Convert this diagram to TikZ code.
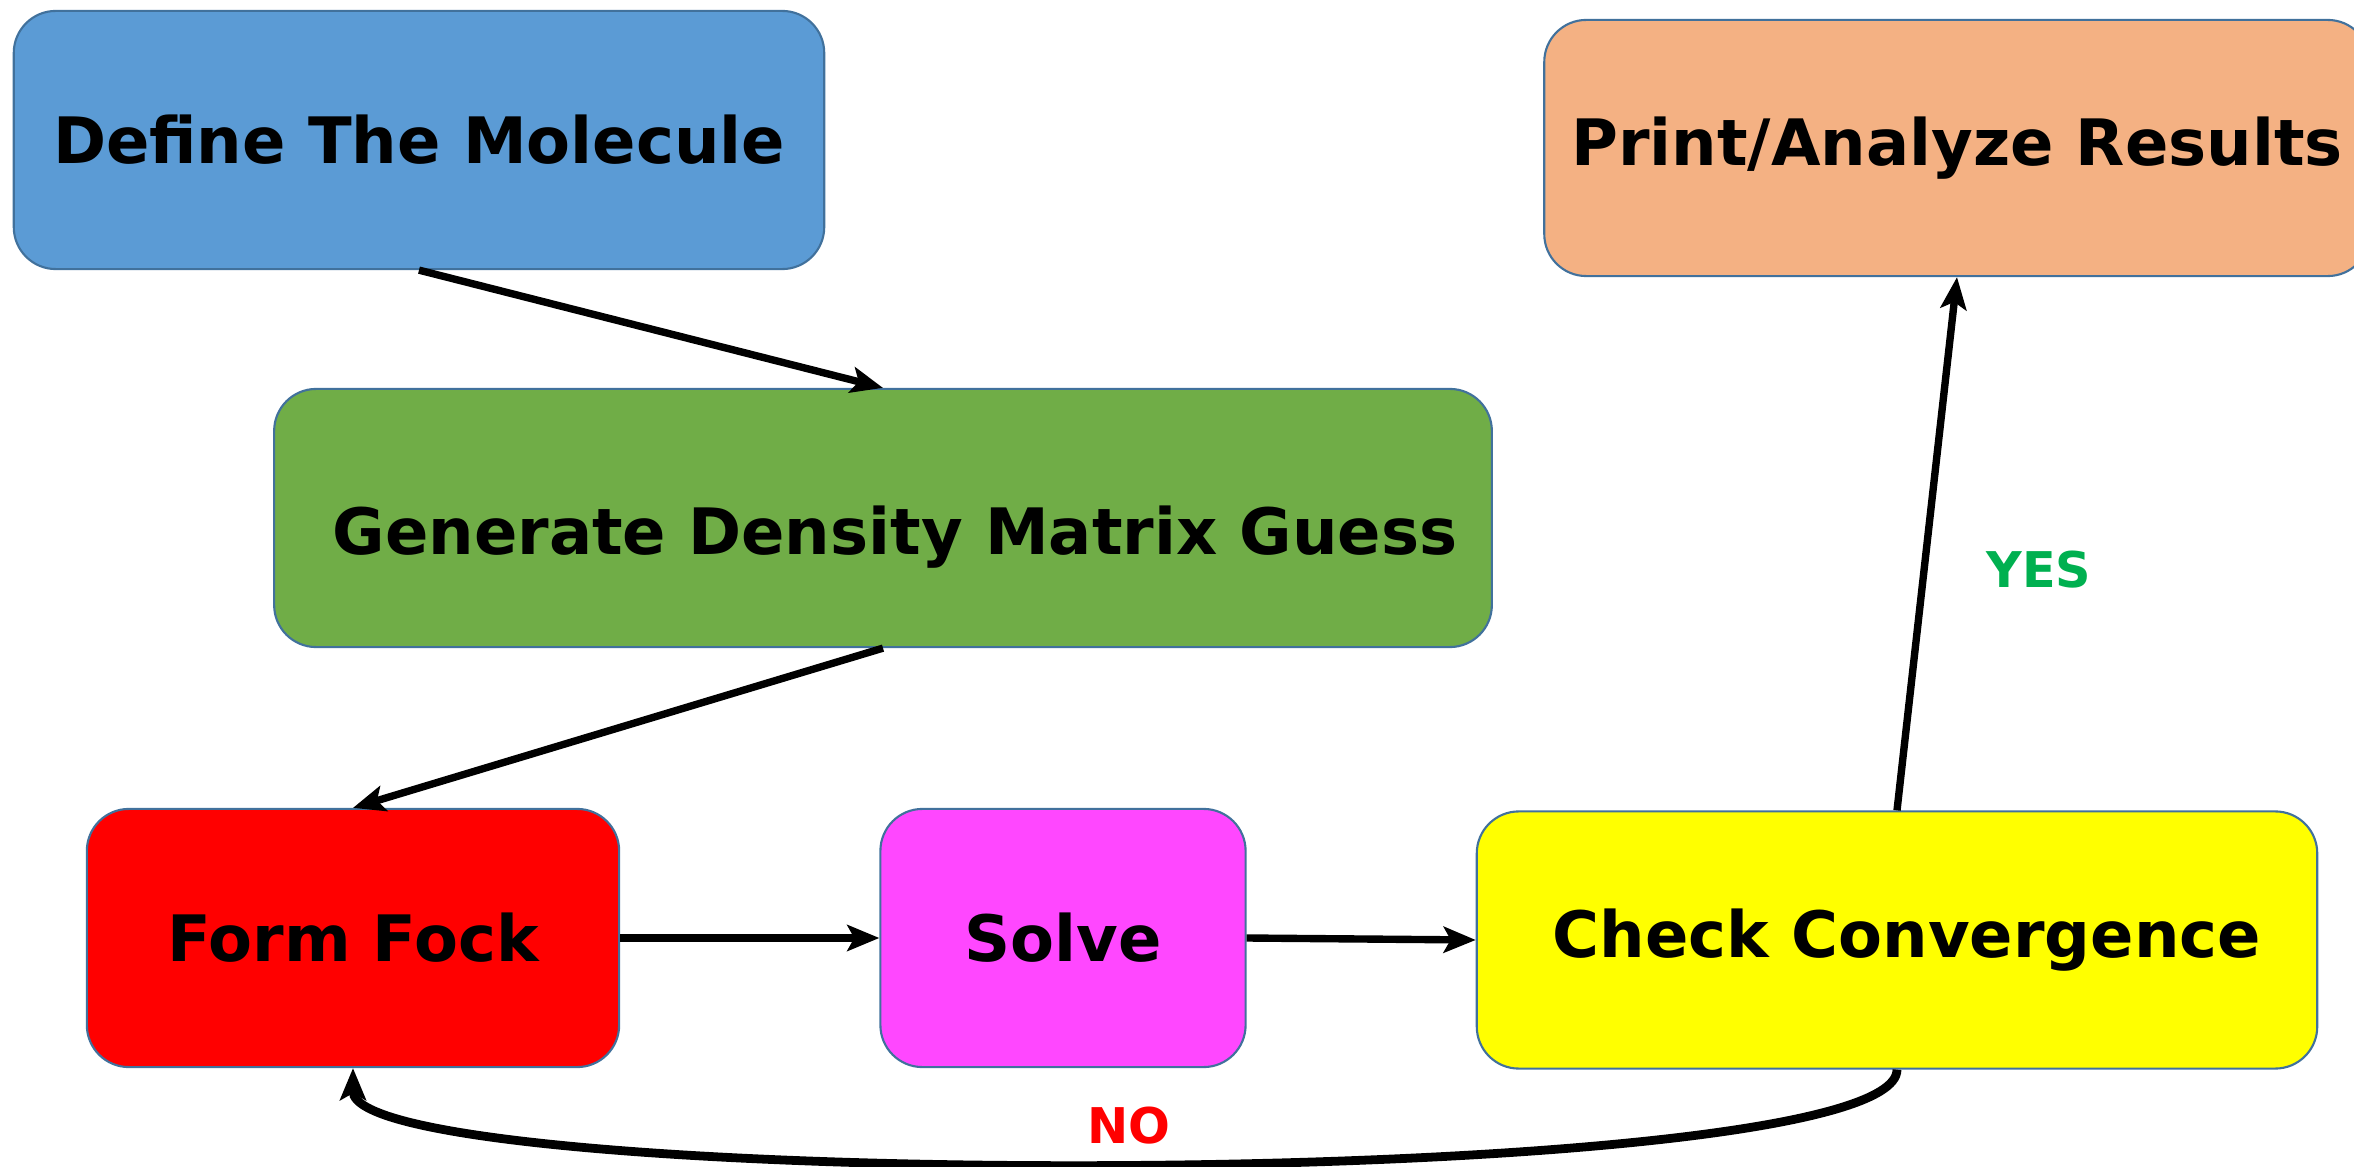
\documentclass[tikz,border=0pt]{standalone}
\usepackage{fontspec}
\setmainfont{DejaVu Sans}
\usetikzlibrary{arrows.meta}

\definecolor{molblue}{HTML}{5B9BD5}
\definecolor{guessgreen}{HTML}{70AD47}
\definecolor{resorange}{HTML}{F4B183}
\definecolor{solvepink}{HTML}{FF47FF}
\definecolor{checkyellow}{HTML}{FFFF00}
\definecolor{yesgreen}{HTML}{00B050}
\definecolor{edgeblue}{HTML}{41719C}

\begin{document}
\begin{tikzpicture}[
    x=0.01cm, y=-0.01cm,
    stage/.style={rectangle, rounded corners=0.42cm, minimum height=2.58cm, text centered, draw=edgeblue, line width=0.6pt, font=\fontsize{18.2pt}{21pt}\selectfont\bfseries, inner sep=0pt},
    arrow/.style={line width=2.1pt, -{Stealth[length=3.2mm, width=2.6mm, inset=0.7mm]}},
    answer/.style={font=\fontsize{14pt}{16pt}\selectfont\bfseries}
]
\useasboundingbox (0,0) rectangle (2354,1167);

% Flow stages
\node[stage, fill=molblue, minimum width=8.10cm] (molecule) at (419,140) {Define The Molecule};
\node[stage, fill=guessgreen, minimum width=12.17cm] (guess) at (883,518) {\hspace*{0.24cm}\raisebox{-0.19cm}[\height][\depth]{Generate Density Matrix Guess}};
\node[stage, fill=resorange, minimum width=8.25cm, minimum height=2.56cm] (results) at (1957,148) {Print/Analyze Results};
\node[stage, fill=red, minimum width=5.32cm] (fock) at (353,938) {Form Fock};
\node[stage, fill=solvepink, minimum width=3.65cm] (solve) at (1063,938) {Solve};
\node[stage, fill=checkyellow, minimum width=8.40cm, minimum height=2.57cm] (check) at (1897,940) {\hspace*{0.2cm}Check Convergence};

% Answers
\node[answer, text=yesgreen] (yes) at (2039,570) {YES};
\node[answer, text=red] (no) at (1129,1126) {NO};

% Arrows between stages
\draw[arrow] (molecule.south) -- (guess.north);
\draw[arrow] (guess.south) -- (fock.north);
\draw[arrow] (fock.east) -- (solve.west);
\draw[arrow] (solve.east) -- (check.west);
\draw[arrow] (check.north) -- (results.south);
\draw[arrow, line width=2.5pt] (check.south) .. controls +(0,125) and +(0,125) .. (fock.south);

\end{tikzpicture}
\end{document}
